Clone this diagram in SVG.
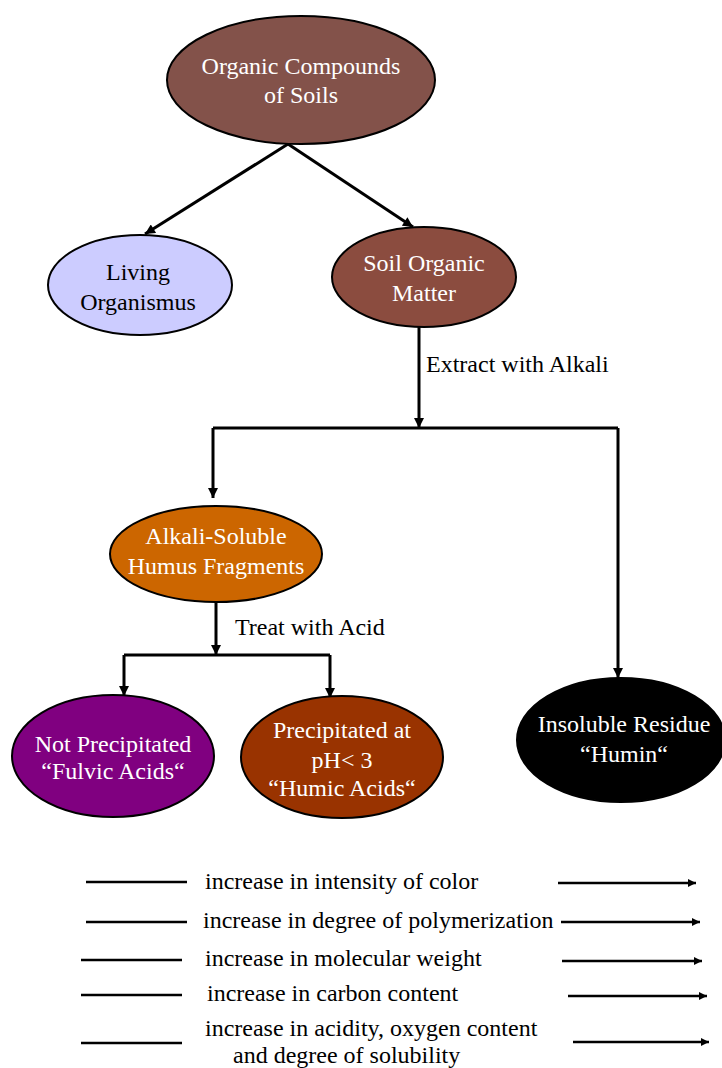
<svg xmlns="http://www.w3.org/2000/svg" width="722" height="1068" viewBox="0 0 722 1068">
<style>
.n{stroke:#000;stroke-width:2}
.t{font-family:"Liberation Serif","Times New Roman",serif;font-size:24px;text-anchor:middle}
.w{fill:#fff}
.k{fill:#000}
.c{fill:none;stroke:#000;stroke-width:3}
.l{fill:none;stroke:#000;stroke-width:2.5}
.lt{font-family:"Liberation Serif","Times New Roman",serif;font-size:24px;fill:#000}
</style>
<defs>
<marker id="ah" markerUnits="userSpaceOnUse" viewBox="0 0 10 10" refX="10" refY="5" markerWidth="11" markerHeight="10" orient="auto">
<path d="M0,0 L10,5 L0,10 Z" fill="#000"/>
</marker>
<marker id="ahs" markerUnits="userSpaceOnUse" viewBox="0 0 10 10" refX="10" refY="5" markerWidth="9" markerHeight="8" orient="auto">
<path d="M0,0 L10,5 L0,10 Z" fill="#000"/>
</marker>
</defs>
<rect width="722" height="1068" fill="#fff"/>
<g id="connectors">
<line class="c" x1="288" y1="144" x2="145" y2="234" marker-end="url(#ah)"/>
<line class="c" x1="288" y1="144" x2="413" y2="227" marker-end="url(#ah)"/>
<line class="c" x1="419" y1="327" x2="419" y2="428" marker-end="url(#ah)"/>
<polyline class="c" points="213,428 618,428"/>
<line class="c" x1="213" y1="428" x2="213" y2="498" marker-end="url(#ah)"/>
<line class="c" x1="618" y1="428" x2="618" y2="678" marker-end="url(#ah)"/>
<line class="c" x1="216" y1="602" x2="216" y2="655" marker-end="url(#ah)"/>
<polyline class="c" points="124,655 330,655"/>
<line class="c" x1="124" y1="655" x2="124" y2="696" marker-end="url(#ah)"/>
<line class="c" x1="330" y1="655" x2="330" y2="698" marker-end="url(#ah)"/>
<text class="lt" x="426" y="372">Extract with Alkali</text>
<text class="lt" x="235" y="635">Treat with Acid</text>
</g>
<g id="organic-compounds">
<ellipse class="n" cx="301" cy="80" rx="134" ry="64" fill="#83524a"/>
<text class="t w" x="301" y="74">Organic Compounds</text>
<text class="t w" x="301" y="103">of Soils</text>
</g>
<g id="living">
<ellipse class="n" cx="140" cy="285" rx="92" ry="50" fill="#ccccff"/>
<text class="t k" x="138" y="280">Living</text>
<text class="t k" x="138" y="310">Organismus</text>
</g>
<g id="som">
<ellipse class="n" cx="424" cy="277" rx="92" ry="50" fill="#8b4c3f"/>
<text class="t w" x="424" y="271">Soil Organic</text>
<text class="t w" x="424" y="301">Matter</text>
</g>
<g id="alkali">
<ellipse class="n" cx="216" cy="554" rx="106" ry="48" fill="#cc6600"/>
<text class="t w" x="216" y="544">Alkali-Soluble</text>
<text class="t w" x="216" y="574">Humus Fragments</text>
</g>
<g id="fulvic">
<ellipse class="n" cx="113" cy="756" rx="101" ry="61" fill="#800080"/>
<text class="t w" x="113" y="752">Not Precipitated</text>
<text class="t w" x="113" y="779">“Fulvic Acids“</text>
</g>
<g id="humic">
<ellipse class="n" cx="342" cy="757" rx="101" ry="61" fill="#993300"/>
<text class="t w" x="342" y="738">Precipitated at</text>
<text class="t w" x="342" y="768">pH&lt; 3</text>
<text class="t w" x="342" y="796">“Humic Acids“</text>
</g>
<g id="humin">
<ellipse class="n" cx="621" cy="740" rx="104" ry="62" fill="#000"/>
<text class="t w" x="624" y="732">Insoluble Residue</text>
<text class="t w" x="624" y="762">“Humin“</text>
</g>
<g id="legend">
<line class="l" x1="86" y1="882" x2="187" y2="882"/>
<text class="lt" x="205" y="889">increase in intensity of color</text>
<line class="l" x1="558" y1="883" x2="696" y2="883" marker-end="url(#ahs)"/>
<line class="l" x1="86" y1="922" x2="187" y2="922"/>
<text class="lt" x="203" y="928">increase in degree of polymerization</text>
<line class="l" x1="561" y1="922" x2="700" y2="922" marker-end="url(#ahs)"/>
<line class="l" x1="81" y1="960" x2="182" y2="960"/>
<text class="lt" x="205" y="966">increase in molecular weight</text>
<line class="l" x1="562" y1="961" x2="702" y2="961" marker-end="url(#ahs)"/>
<line class="l" x1="81" y1="995" x2="182" y2="995"/>
<text class="lt" x="207" y="1001">increase in carbon content</text>
<line class="l" x1="568" y1="996" x2="707" y2="996" marker-end="url(#ahs)"/>
<line class="l" x1="81" y1="1043" x2="182" y2="1043"/>
<text class="lt" x="205" y="1036">increase in acidity, oxygen content</text>
<text class="lt" x="233" y="1063">and degree of solubility</text>
<line class="l" x1="573" y1="1042" x2="709" y2="1042" marker-end="url(#ahs)"/>
</g>
</svg>
